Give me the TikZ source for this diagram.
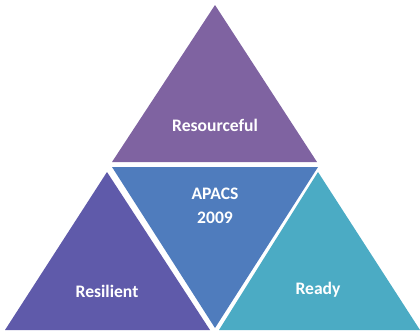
\documentclass[tikz,border=0pt]{standalone}
\usepackage{fontspec}
\setmainfont{Carlito}
\definecolor{topviolet}{HTML}{7F63A1}
\definecolor{leftviolet}{HTML}{5F5AAA}
\definecolor{midblue}{HTML}{4F7CBD}
\definecolor{rightteal}{HTML}{4BABC4}
\tikzset{
    label/.style={text=white, font=\bfseries\fontsize{12.5}{15}\selectfont, align=center},
}
\begin{document}
\begin{tikzpicture}[x=0.025cm, y=-0.025cm]
        \useasboundingbox (0,0) rectangle (420,332);
        % Dreiecke
        \foreach \col/\ax/\ay/\bx/\by/\cx/\cy in {
            topviolet/112/162/317/162/215/5,
            midblue/112/167/318/167/215/328,
            leftviolet/5/330/210/330/107/172,
            rightteal/219/330/420/330/318/172
            } {
            \fill[\col] (\ax,\ay) -- (\bx,\by) -- (\cx,\cy) -- cycle;
        }
        % Beschriftungen
        \node[label] (resourceful) at (215,125) {Resourceful};
        \node[label] (apacs) at (215,194) {APACS};
        \node[label] (year) at (215,218) {2009};
        \node[label] (resilient) at (107,291) {Resilient};
        \node[label] (ready) at (318,290) {Ready};
\end{tikzpicture}
\end{document}
